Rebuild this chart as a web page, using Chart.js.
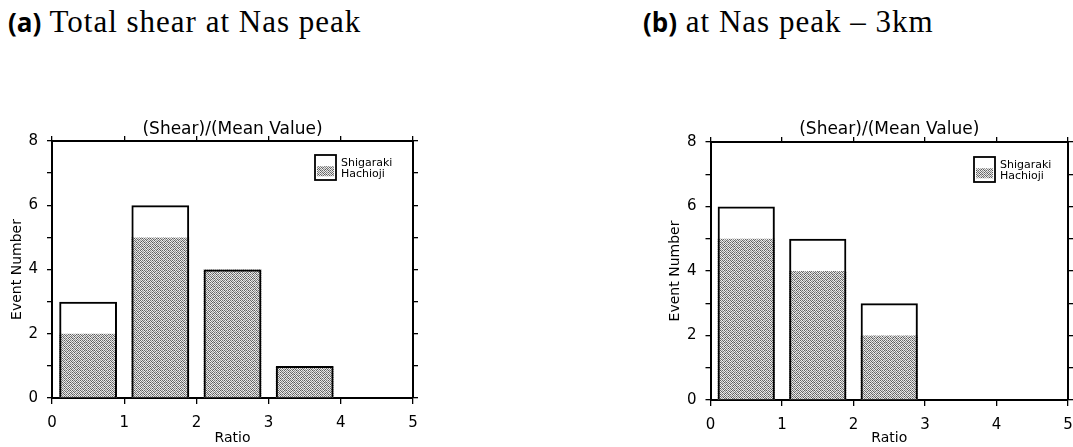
<!DOCTYPE html>
<html><head><meta charset="utf-8">
<script src="https://cdn.jsdelivr.net/npm/chart.js@4.4.0/dist/chart.umd.min.js"></script>
<style>
html,body{margin:0;padding:0;background:#fff;width:1073px;height:447px;overflow:hidden;position:relative}
.ttl{position:absolute;top:4px;font-family:"Liberation Serif",serif;font-size:31px;letter-spacing:1px;color:#000;white-space:nowrap;line-height:36px}
.ttl b{font-family:"Open Sans","DejaVu Sans",sans-serif;font-weight:700;font-size:26px;letter-spacing:0}
.wrap{position:absolute;top:100px;height:347px}
canvas{display:block}
</style></head><body>
<div class="ttl" style="left:8px"><b>(a)</b> Total shear at Nas peak</div>
<div class="ttl" style="left:643px"><b>(b)</b> at Nas peak – 3km</div>
<div class="wrap" style="left:0;width:440px"><canvas id="ca" width="440" height="347"></canvas></div>
<div class="wrap" style="left:648px;width:440px"><canvas id="cb" width="440" height="347"></canvas></div>
<script>
// ---- data ----
const seriesNames = ['Shigaraki', 'Hachioji'];
const binCenters = [0.5, 1.5, 2.5, 3.5];          // ratio bins 0-1, 1-2, 2-3, 3-4
const shigarakiA = [3, 6, 4, 1];
const hachiojiA  = [2, 5, 4, 1];
const shigarakiB = [6, 5, 3, 0];
const hachiojiB  = [5, 4, 2, 0];
const xTickLabels = [0, 1, 2, 3, 4, 5];
const yTickLabels = [0, 2, 4, 6, 8];
const topTitle = '(Shear)/(Mean Value)';
const xTitle = 'Ratio';
const yTitle = 'Event Number';

// stipple fill (fixed dither tile)
function makePattern() {
  const g = [
    '#5c#e6#70#d8#66#f0#7a#dc',
    '#ee#88#e2#5a#f4#74#e8#92',
    '#6a#dc#9a#f2#60#c8#56#ea',
    '#f0#64#d0#6e#e4#8e#f2#78',
    '#7e#f2#5e#e8#a4#e0#6c#d4',
    '#e4#98#f6#82#d6#58#ec#60',
    '#58#d2#6c#ee#62#f4#8a#e6',
    '#f4#76#e0#9c#ea#72#d8#9e'
  ];
  const c = document.createElement('canvas');
  c.width = 8; c.height = 8;
  const cx = c.getContext('2d');
  for (let y = 0; y < 8; y++) {
    const row = g[y].split('#').filter(Boolean);
    for (let x = 0; x < 8; x++) {
      const v = parseInt(row[x], 16);
      cx.fillStyle = `rgb(${v},${v},${v})`;
      cx.fillRect(x, y, 1, 1);
    }
  }
  return cx.createPattern(c, 'repeat');
}

const legendBox = {
  id: 'legendBox',
  afterDatasetsDraw(chart, args, opts) {
    const {ctx, chartArea: a} = chart;
    const x = a.right - opts.dx, y = a.top + opts.dy, w = 21, h = 25;
    ctx.save();
    ctx.fillStyle = '#fff';
    ctx.fillRect(x, y, w, h);
    ctx.fillStyle = chart.data.datasets[1].backgroundColor;
    ctx.fillRect(x + 2, y + h * 0.45, w - 4, h * 0.4);
    ctx.strokeStyle = '#000';
    ctx.lineWidth = 1.8;
    ctx.strokeRect(x, y, w, h);
    ctx.fillStyle = '#000';
    ctx.font = '11px "DejaVu Sans", sans-serif';
    ctx.textBaseline = 'middle';
    ctx.textAlign = 'left';
    ctx.fillText(chart.data.datasets[0].label, x + w + 5, y + 8);
    ctx.fillText(chart.data.datasets[1].label, x + w + 5, y + 19);
    ctx.restore();
  }
};

const tickFont = {family: '"DejaVu Sans", sans-serif', size: 15};
const titleFont = {family: '"DejaVu Sans", sans-serif', size: 14};

function makeChart(id, shig, hach, d) {
  const pattern = makePattern();
  const axisCommon = {
    grid: {drawOnChartArea: false, drawTicks: true, color: '#000', lineWidth: 1.3, offset: false},
    border: {display: true, color: '#000', width: 2}
  };
  return new Chart(document.getElementById(id), {
    type: 'bar',
    data: {
      datasets: [
        {
          label: seriesNames[0],
          data: binCenters.map((x, i) => ({x, y: shig[i]})),
          backgroundColor: 'rgba(0,0,0,0)',
          borderColor: '#000',
          borderWidth: 2,
          borderSkipped: 'start',
          categoryPercentage: 1, barPercentage: 0.8, grouped: false,
          xAxisID: 'x', yAxisID: 'y'
        },
        {
          label: seriesNames[1],
          data: binCenters.map((x, i) => ({x, y: hach[i]})),
          backgroundColor: pattern,
          borderWidth: 0,
          categoryPercentage: 1, barPercentage: 0.8, grouped: false,
          xAxisID: 'x', yAxisID: 'y'
        }
      ]
    },
    options: {
      responsive: false,
      animation: false,
      layout: {padding: 0},
      plugins: {
        legend: {display: false},
        tooltip: {enabled: false},
        title: {display: false},
        legendBox: {dx: d.legDx, dy: d.legDy}
      },
      scales: {
        x: {
          type: 'linear', position: 'bottom', min: 0, max: 5, offset: false,
          ticks: {stepSize: 1, color: '#000', font: tickFont, padding: 10, maxRotation: 0,
                  callback: v => xTickLabels.includes(v) ? String(v) : ''},
          grid: {...axisCommon.grid, tickLength: 6},
          border: axisCommon.border,
          title: {display: true, text: xTitle, color: '#000', font: titleFont, padding: {top: 0, bottom: d.xTitlePad}},
          afterFit: s => { s.height = d.bottom; }
        },
        x2: {
          type: 'linear', position: 'top', min: 0, max: 5, offset: false,
          ticks: {display: false, stepSize: 1},
          grid: {...axisCommon.grid, tickLength: 5},
          border: axisCommon.border,
          title: {display: true, text: topTitle, color: '#000', font: {family: '"DejaVu Sans", sans-serif', size: 17}, padding: {top: 19, bottom: 0}},
          afterFit: s => { s.height = d.top; }
        },
        y: {
          type: 'linear', position: 'left', min: 0, max: 8,
          ticks: {stepSize: 1, color: '#000', font: tickFont, padding: 9,
                  callback: v => yTickLabels.includes(v) ? String(v) : ''},
          grid: {...axisCommon.grid, tickLength: 5},
          border: axisCommon.border,
          title: {display: true, text: yTitle, color: '#000', font: titleFont, padding: {top: d.yTitlePad, bottom: 0}},
          afterFit: s => { s.width = d.left; }
        },
        y2: {
          type: 'linear', position: 'right', min: 0, max: 8,
          ticks: {display: false, stepSize: 1},
          grid: {...axisCommon.grid, tickLength: 5},
          border: axisCommon.border,
          afterFit: s => { s.width = d.right; }
        }
      }
    },
    plugins: [legendBox]
  });
}

makeChart('ca', shigarakiA, hachiojiA, {left: 52, right: 27, top: 41, bottom: 49, yTitlePad: 9, xTitlePad: 0, legDx: 98, legDy: 14});
makeChart('cb', shigarakiB, hachiojiB, {left: 62.5, right: 20, top: 42, bottom: 47, yTitlePad: 19, xTitlePad: 0, legDx: 94, legDy: 15});
</script>
</body></html>
